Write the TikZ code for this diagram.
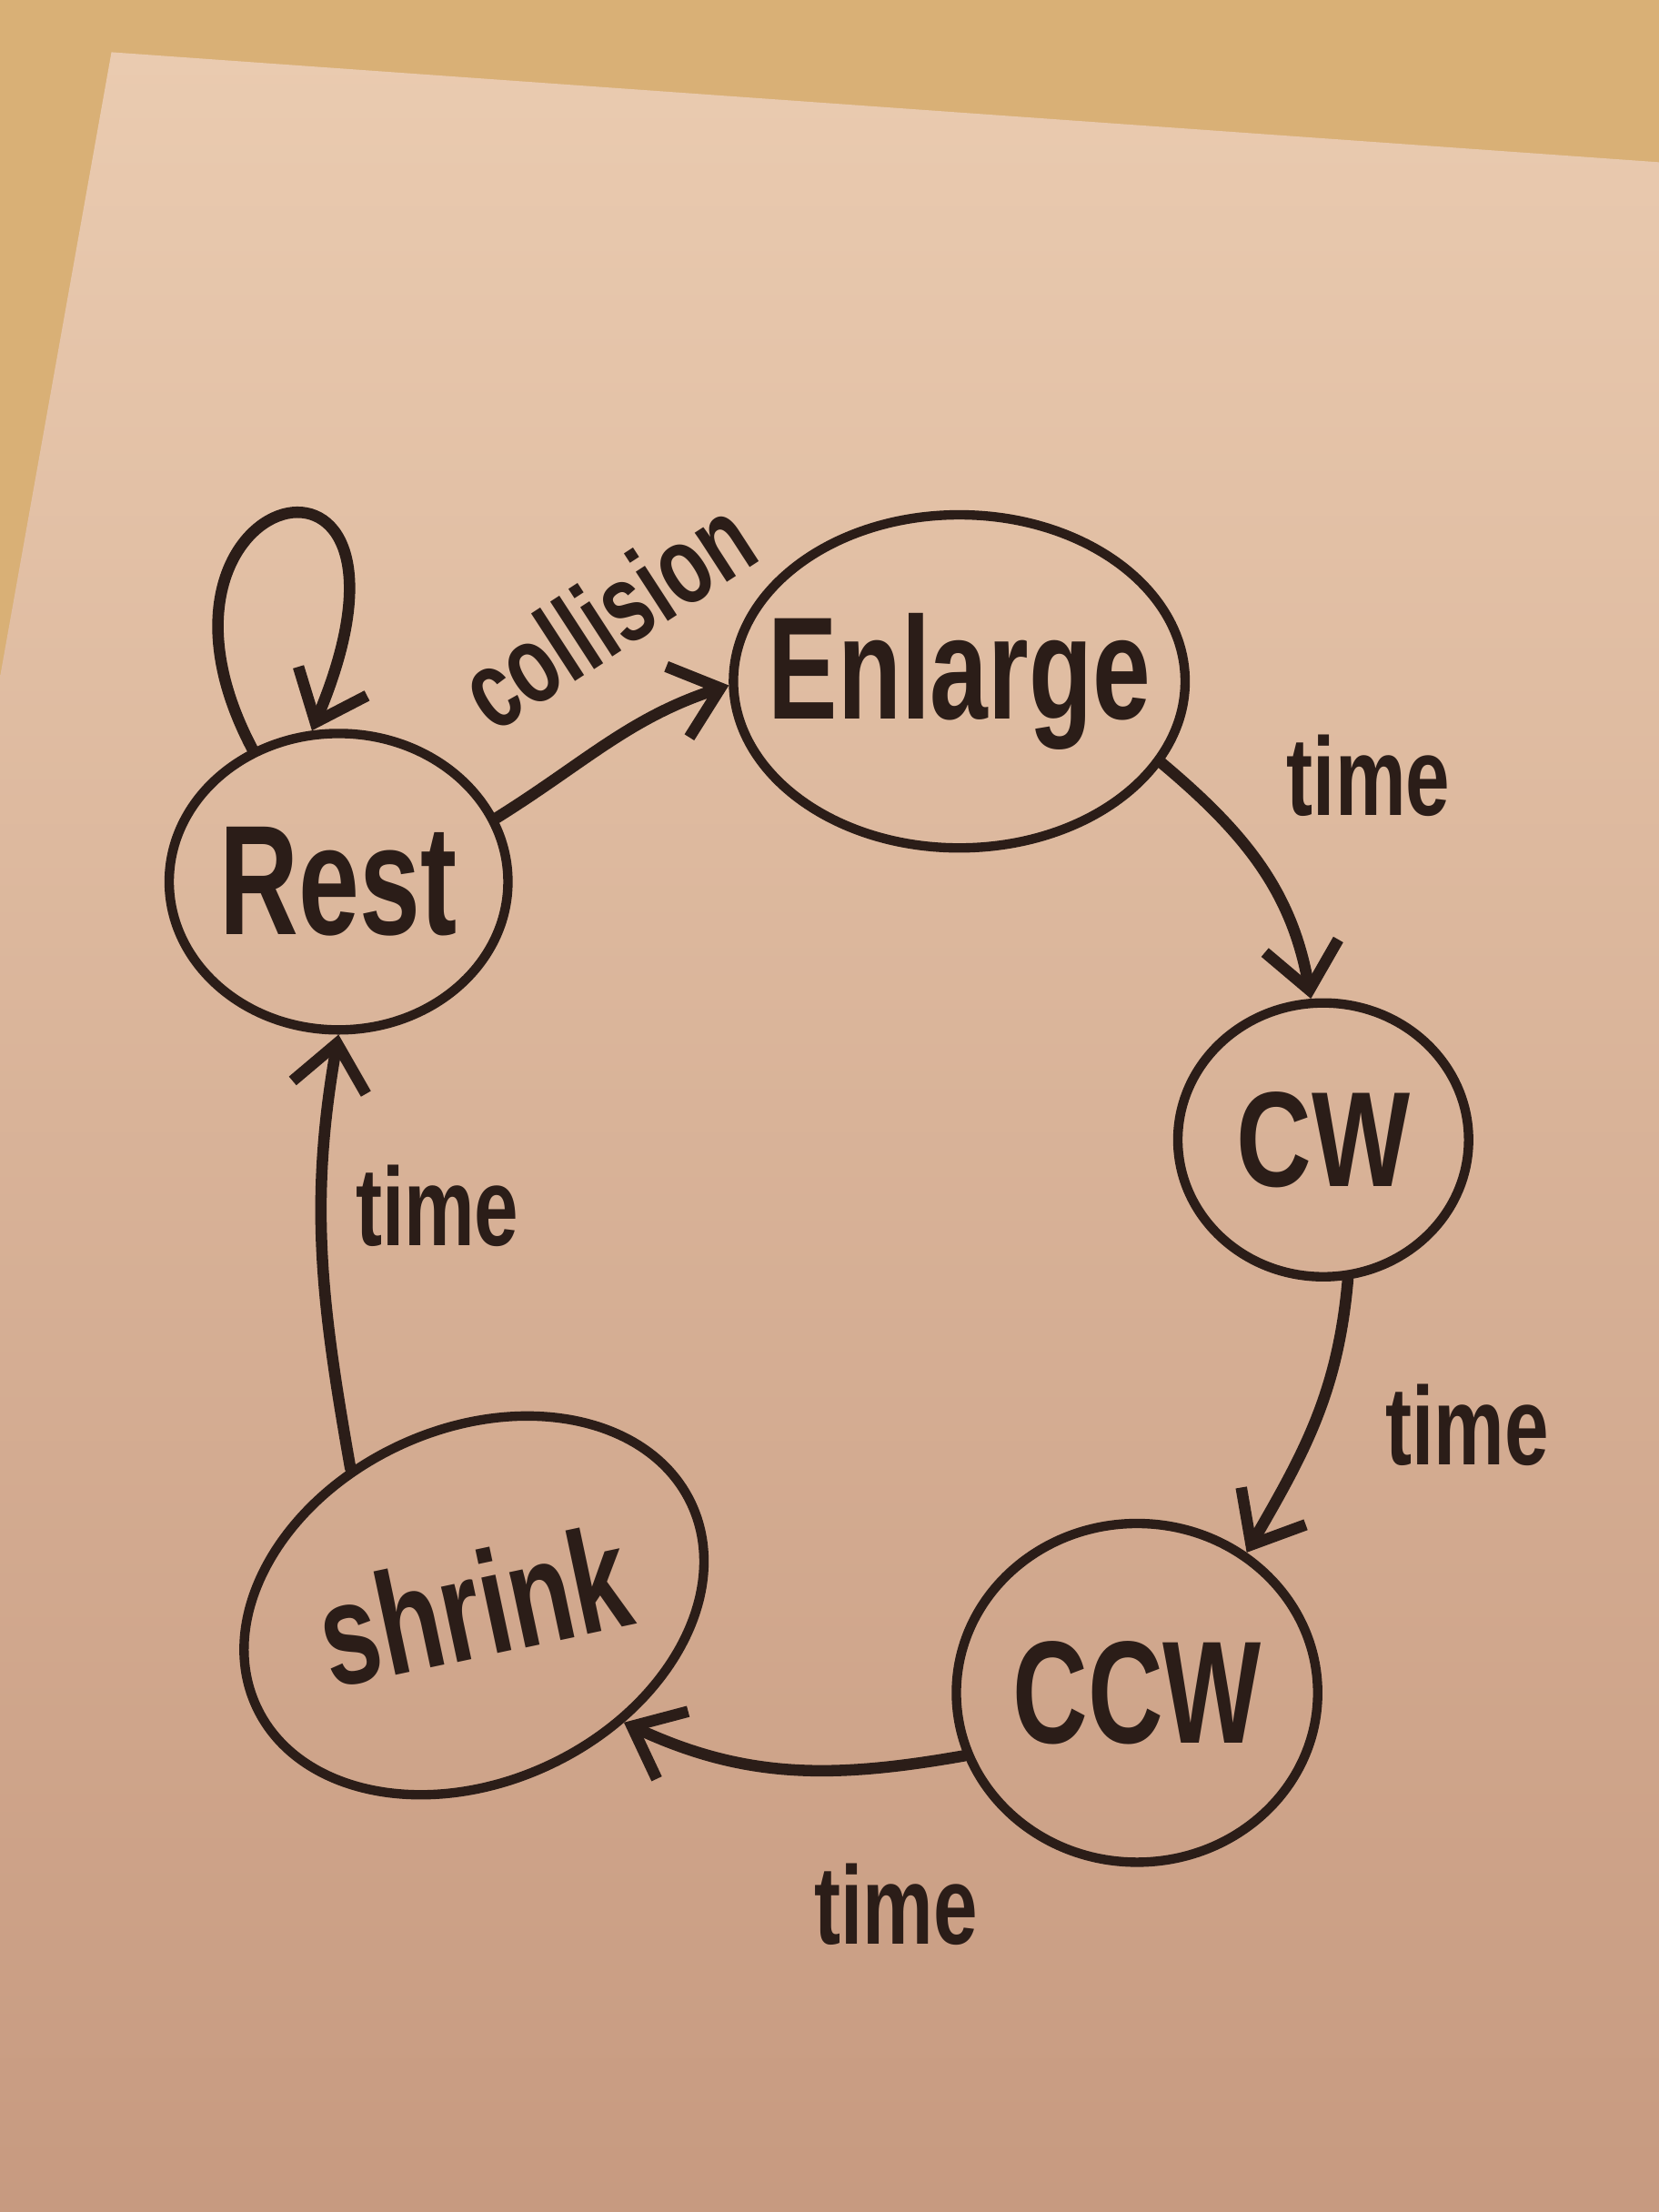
\documentclass[tikz,border=0pt]{standalone}
\usepackage{fontspec}
\setmainfont{Liberation Sans}
\usepackage{graphicx}
\usetikzlibrary{shapes.geometric,arrows.meta}
\definecolor{ink}{HTML}{2B1D18}
\definecolor{paperTop}{HTML}{EACBB0}
\definecolor{paperBot}{HTML}{C79A80}
\definecolor{backdrop}{HTML}{D9B076}
\begin{document}
\begin{tikzpicture}[x=0.01cm,y=0.01cm,
  state/.style={draw=ink, ellipse, line width=1.9pt, inner sep=0pt},
  lbl/.style={text=ink, font=\bfseries\fontsize{21}{21}\selectfont},
  edge/.style={draw=ink, line width=2.3pt, line cap=round,
    -{Straight Barb[length=9pt,width=15pt]}},
  tlab/.style={text=ink, font=\bfseries\fontsize{16}{16}\selectfont}]
\fill[backdrop] (0,0) rectangle (1176,1568);
\shade[top color=paperTop, bottom color=paperBot]
  (79,1531) -- (1176,1453) -- (1176,0) -- (0,0) -- (0,1088) -- cycle;
\useasboundingbox (0,0) rectangle (1176,1568);

% states
\node[state, minimum width=2.4cm, minimum height=2.1cm] (rest) at (240,943) {};
\node[state, minimum width=3.2cm, minimum height=2.36cm] (enl) at (680,1085) {};
\node[state, minimum width=2.06cm, minimum height=1.94cm] (cw) at (938,760) {};
\node[state, minimum width=2.56cm, minimum height=2.4cm] (ccw) at (806,368) {};
\node[state, minimum width=3.4cm, minimum height=2.5cm, rotate=25] (shr) at (336,430) {};

\node[lbl] (restT) at (rest) {\scalebox{1.05}[1.5]{Rest}};
\node[lbl] (enlT) at (enl) {\scalebox{1}[1.4]{Enlarge}};
\node[lbl] (cwT) at (cw) {\scalebox{1}[1.3]{CW}};
\node[lbl] (ccwT) at (ccw) {\scalebox{1}[1.4]{CCW}};
\node[lbl, rotate=12] (shrT) at (shr) {\scalebox{1}[1.4]{shrink}};

% transitions
\draw[edge] (rest.123) .. controls (80,1225) and (320,1285) .. (rest.100);
\draw[edge] (rest.22) to[out=32,in=198] (enl.181);
\draw[edge] (enl.-22) to[out=-40,in=100] (cw.95);
\draw[edge] (cw.-80) to[out=-95,in=60] (ccw.52);
\draw[edge] (ccw.200) to[out=190,in=-25] (shr.-63);
\draw[edge] (shr.107) to[out=100,in=-100] (rest.-90);

% labels
\node[tlab, rotate=33] (collL) at (430,1133) {\scalebox{1}[1.4]{collision}};
\node[tlab] (t1) at (970,1018) {\scalebox{1}[1.4]{time}};
\node[tlab] (t2) at (1040,558) {\scalebox{1}[1.4]{time}};
\node[tlab] (t3) at (635,218) {\scalebox{1}[1.4]{time}};
\node[tlab] (t4) at (310,713) {\scalebox{1}[1.4]{time}};
\end{tikzpicture}
\end{document}
